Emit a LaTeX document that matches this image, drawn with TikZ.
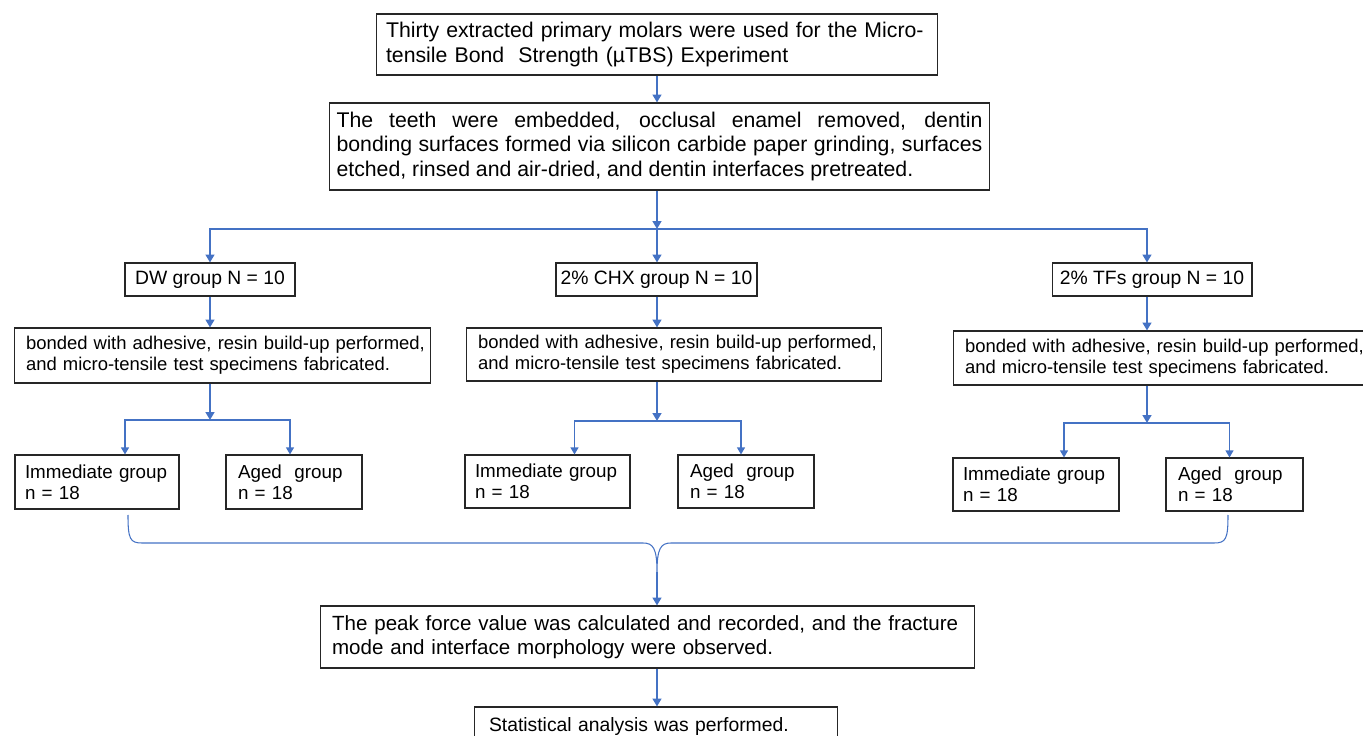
\documentclass[tikz,border=0pt]{standalone}
\usepackage{fontspec}
\setmainfont{Liberation Sans}
\usetikzlibrary{arrows, arrows.meta}
\usetikzlibrary{calc}

\definecolor{flowblue}{RGB}{68,114,196}

\begin{document}
\begin{tikzpicture}[x=0.02cm, y=-0.02cm,
    box/.style={draw=black!85, line width=0.6pt, inner sep=0pt, align=left},
    arr/.style={draw=flowblue, line width=1.1pt, -{Triangle[width=5pt, length=4.5pt]}},
    subarr/.style={draw=flowblue, line width=0.7pt, -{Triangle[width=4.5pt, length=4pt]}},
    bracel/.style={draw=flowblue, line width=0.6pt}]
    \useasboundingbox (0,0) rectangle (1363,736);

    % steps down the middle
    \node[box, font=\fontsize{12.1}{14.2}\selectfont, minimum width=11.24cm, minimum height=1.22cm, text width=10.84cm] (top) at (657,44.5)
      {\mbox{Thirty extracted primary molars were used for the Micro-}\\\mbox{tensile Bond\ \ Strength (µTBS) Experiment}};
    \node[box, font=\fontsize{12.1}{13.9}\selectfont, minimum width=13.22cm, minimum height=1.74cm, text width=12.92cm, align=justify] (prep) at (659.5,146.5)
      {The teeth were embedded, occlusal enamel removed, dentin\linebreak bonding surfaces formed via silicon carbide paper grinding, surfaces\linebreak etched, rinsed and air-dried, and dentin interfaces pretreated.};

    % the three groups
    \node[box, font=\fontsize{11}{13}\selectfont, minimum width=3.4cm, minimum height=0.66cm] (dw) at (210,279.5) {DW group N = 10};
    \node[box, font=\fontsize{11}{13}\selectfont, minimum width=4.02cm, minimum height=0.66cm] (chx) at (656.5,279.5) {2\% CHX group N = 10};
    \node[box, font=\fontsize{11}{13}\selectfont, minimum width=4.0cm, minimum height=0.66cm] (tfs) at (1152,279.5) {2\% TFs group N = 10};

    \node[box, font=\fontsize{10.5}{12.2}\selectfont, minimum width=8.34cm, minimum height=1.1cm, text width=7.86cm] (bond1) at (222.5,355.5)
      {\mbox{bonded with adhesive, resin build-up performed,}\\\mbox{and micro-tensile test specimens fabricated.}};
    \node[box, font=\fontsize{10.5}{12.2}\selectfont, minimum width=8.32cm, minimum height=1.06cm, text width=7.84cm] (bond2) at (674,354.5)
      {\mbox{bonded with adhesive, resin build-up performed,}\\\mbox{and micro-tensile test specimens fabricated.}};
    \node[box, font=\fontsize{10.5}{12.2}\selectfont, minimum width=8.34cm, minimum height=1.08cm, text width=7.86cm] (bond3) at (1161.5,358)
      {\mbox{bonded with adhesive, resin build-up performed,}\\\mbox{and micro-tensile test specimens fabricated.}};

    \node[box, font=\fontsize{10.7}{12}\selectfont, minimum width=3.28cm, minimum height=1.08cm, text width=2.88cm] (imm1) at (97,482) {\mbox{Immediate group}\\n = 18};
    \node[box, font=\fontsize{10.7}{12}\selectfont, minimum width=2.72cm, minimum height=1.08cm, text width=2.24cm] (aged1) at (294,482) {\mbox{Aged\ \ group}\\n = 18};
    \node[box, font=\fontsize{10.7}{12}\selectfont, minimum width=3.3cm, minimum height=1.06cm, text width=2.9cm] (imm2) at (547.5,481.5) {\mbox{Immediate group}\\n = 18};
    \node[box, font=\fontsize{10.7}{12}\selectfont, minimum width=2.72cm, minimum height=1.06cm, text width=2.24cm] (aged2) at (746,481.5) {\mbox{Aged\ \ group}\\n = 18};
    \node[box, font=\fontsize{10.7}{12}\selectfont, minimum width=3.32cm, minimum height=1.06cm, text width=2.92cm] (imm3) at (1036,484.5) {\mbox{Immediate group}\\n = 18};
    \node[box, font=\fontsize{10.7}{12}\selectfont, minimum width=2.74cm, minimum height=1.06cm, text width=2.26cm] (aged3) at (1234.5,484.5) {\mbox{Aged\ \ group}\\n = 18};

    \node[box, font=\fontsize{11.7}{13.6}\selectfont, minimum width=13.1cm, minimum height=1.24cm, text width=12.62cm] (peak) at (647.5,637)
      {\mbox{The peak force value was calculated and recorded, and the fracture}\\\mbox{mode and interface morphology were observed.}};
    \node[box, font=\fontsize{11}{13}\selectfont, minimum width=7.28cm, minimum height=0.8cm, text width=6.68cm] (stats) at (656,727)
      {\mbox{Statistical analysis was performed.}};

    \coordinate (s0) at (657,229);
    \coordinate (j1) at (210,420);
    \coordinate (j2) at (657,421);
    \coordinate (j3) at (1147,423);
    \coordinate (b1) at (128,515);
    \coordinate (b2) at (1228,515);
    \coordinate (tip) at (657,572);

    \draw[arr] (top.south -| s0) -- (prep.north -| s0);
    \draw[arr] (prep.south -| s0) -- (s0);
    \draw[arr] (s0) -- (chx.north -| s0);
    \draw[arr] (s0) -| (dw.north);
    \draw[arr] (s0) -| (tfs.north -| j3);

    \draw[arr] (dw.south) -- (bond1.north -| j1);
    \draw[arr] (chx.south -| j2) -- (bond2.north -| j2);
    \draw[arr] (tfs.south -| j3) -- (bond3.north -| j3);

    \draw[arr] (bond1.south -| j1) -- (j1);
    \draw[arr] (bond2.south -| j2) -- (j2);
    \draw[arr] (bond3.south -| j3) -- (j3);

    \draw[subarr] (j1) -| ($(imm1.north)+(28,0)$);
    \draw[subarr] (j1) -| ($(aged1.north)+(-4,0)$);
    \draw[subarr] (j2) -| ($(imm2.north)+(27,0)$);
    \draw[subarr] (j2) -| ($(aged2.north)+(-5,0)$);
    \draw[subarr] (j3) -| ($(imm3.north)+(28,0)$);
    \draw[subarr] (j3) -| ($(aged3.north)+(-5,0)$);

    % brace under the six groups
    \draw[bracel] (b1) .. controls (128,539) and (130,543) .. (142,543) -- (643,543)
      .. controls (653,543) and (657,548) .. (tip)
      .. controls (657,548) and (661,543) .. (671,543) -- (1214,543)
      .. controls (1226,543) and (1228,539) .. (b2);
    \draw[arr] (tip) -- (peak.north -| tip);
    \draw[arr] (peak.south -| tip) -- (stats.north -| tip);
\end{tikzpicture}
\end{document}
